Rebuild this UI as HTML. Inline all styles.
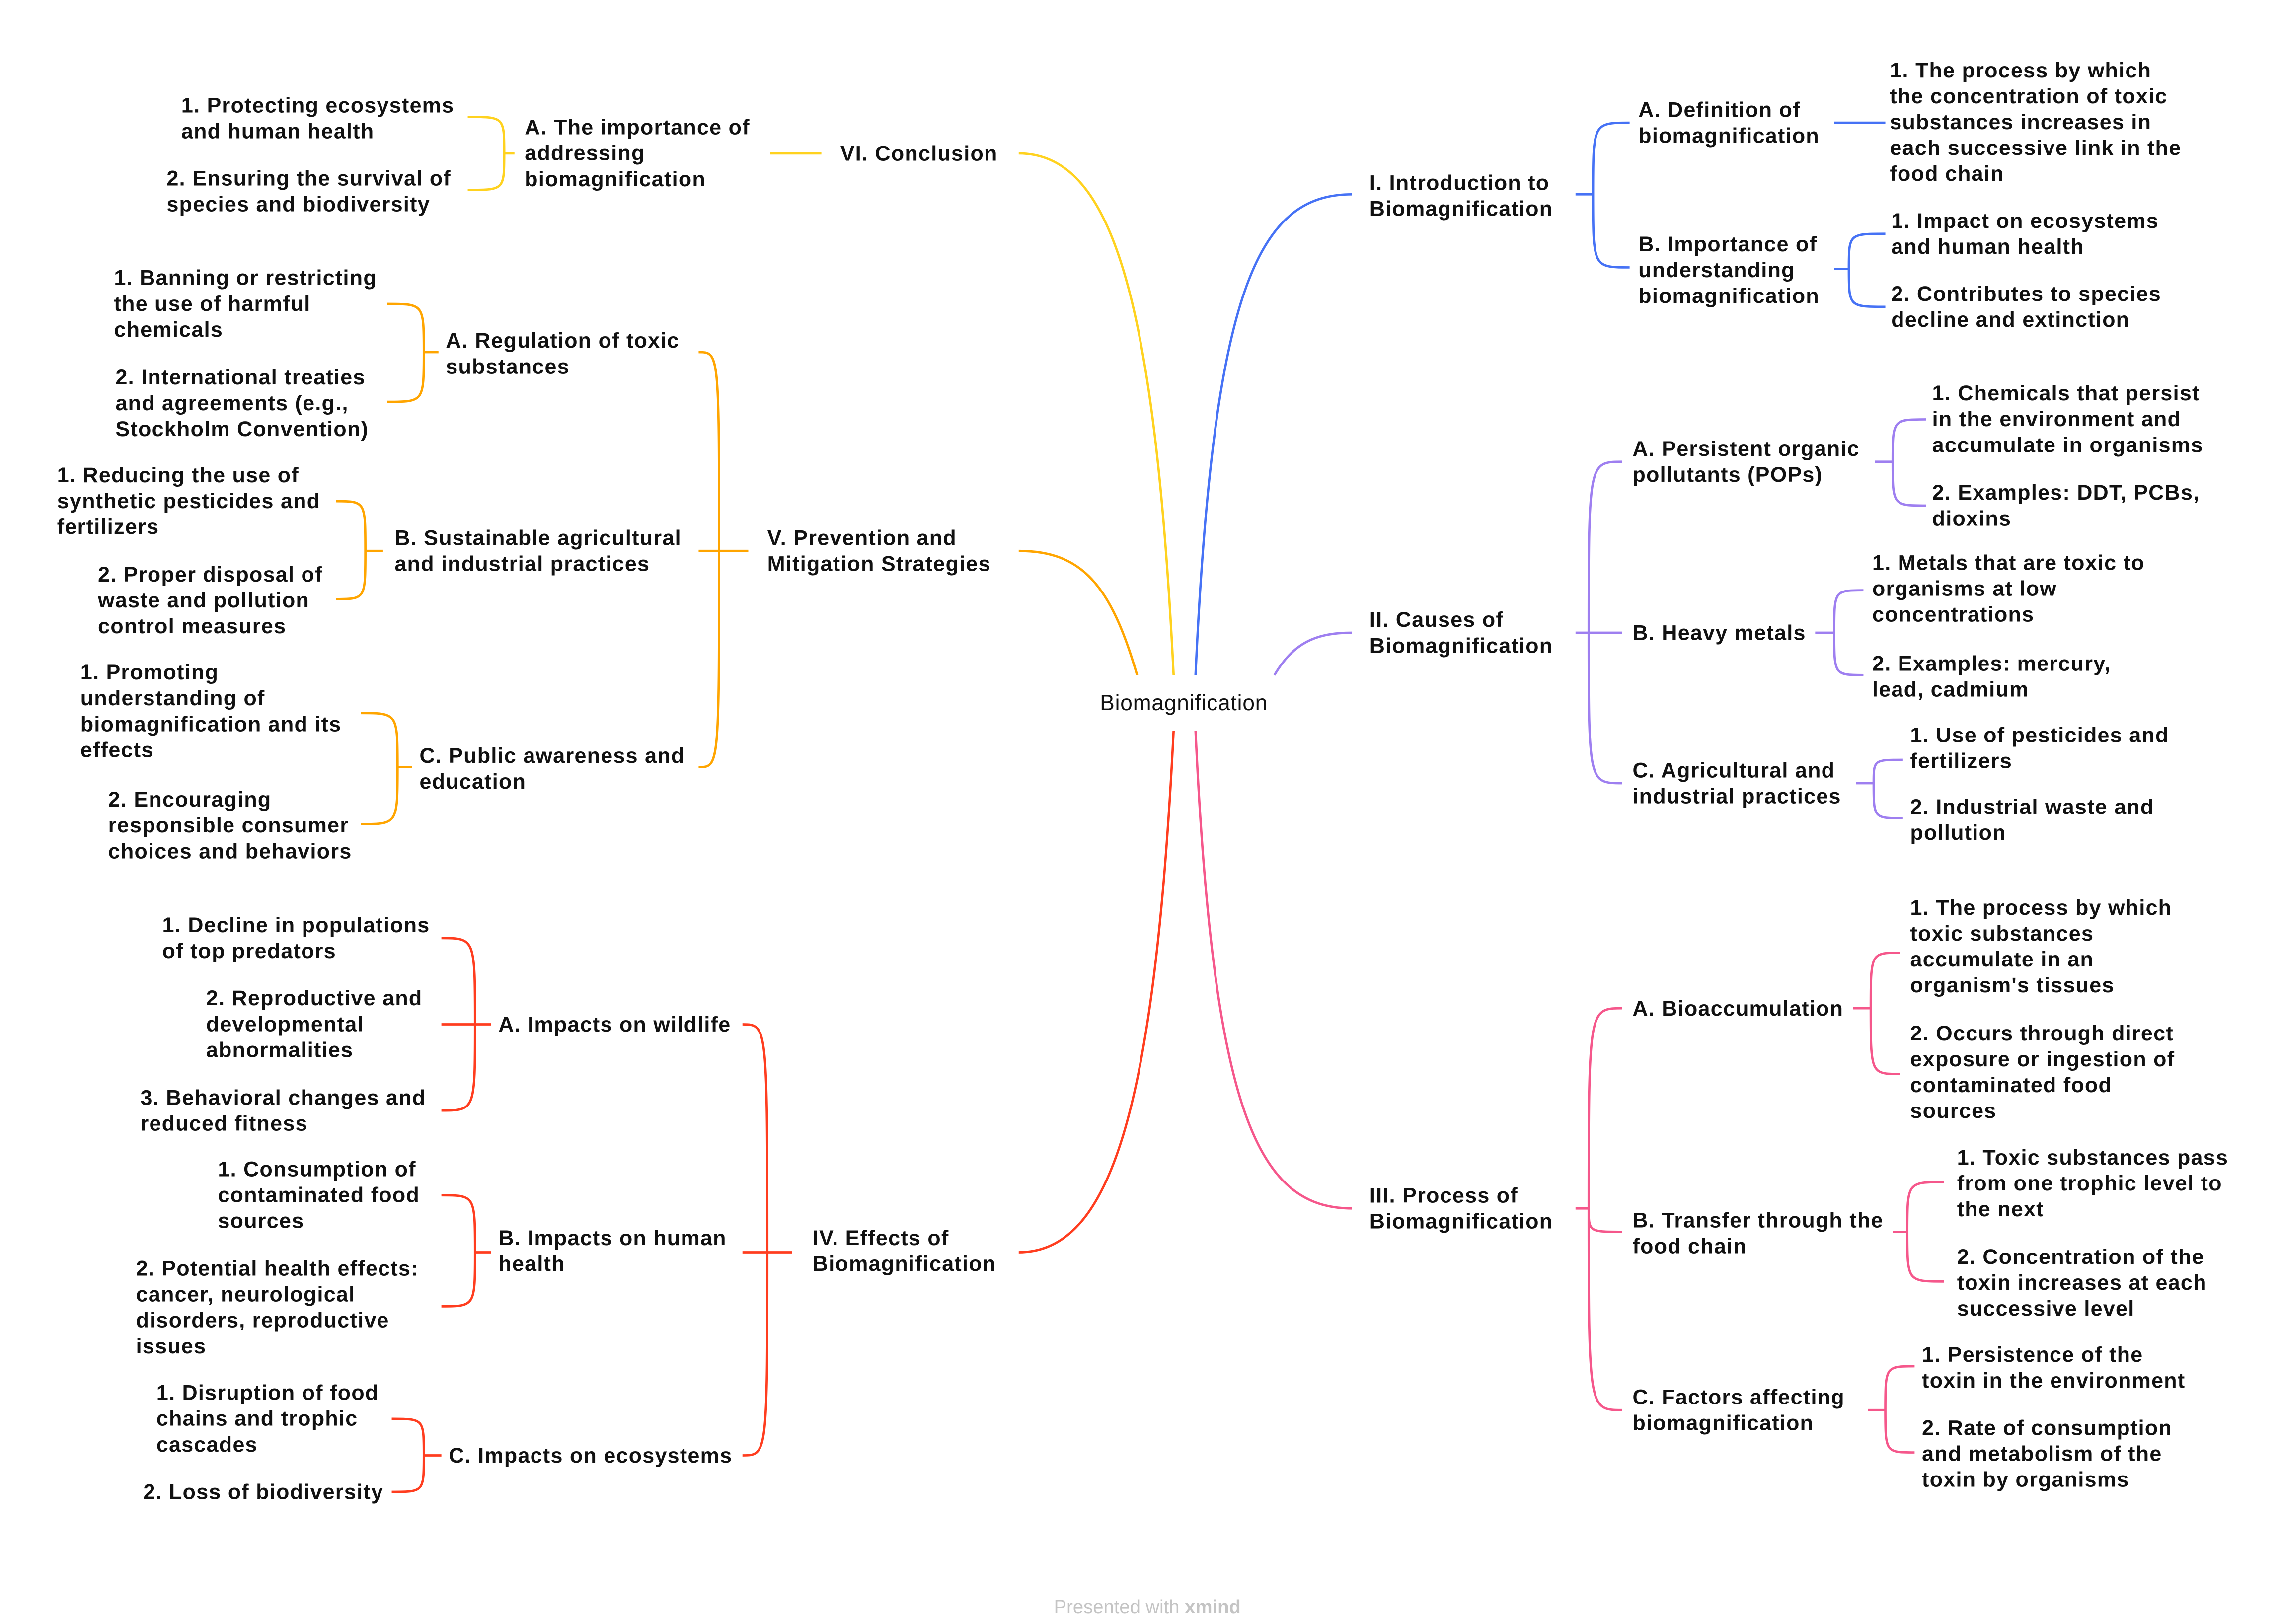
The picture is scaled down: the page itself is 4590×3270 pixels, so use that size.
<!DOCTYPE html>
<html><head><meta charset="utf-8"><style>
html,body{margin:0;padding:0;background:#fff;}
svg{display:block}
text{font-family:"Liberation Sans",sans-serif;font-weight:bold;font-size:14.6px;letter-spacing:0.45px;fill:#111;}
path{fill:none;stroke-width:1.6;}
</style></head><body>
<svg width="4590" height="3270" viewBox="0 0 1560 1111.4" xmlns="http://www.w3.org/2000/svg">
<rect width="1560" height="1111.4" fill="#fff"/>
<path stroke="#4672F5" d="M818,462 C830,200 860,133 925,133"/>
<path stroke="#FFD21F" d="M803,462 C790,200 760,105 697,105"/>
<path stroke="#FFA500" d="M778,462 C760,400 740,377 697,377"/>
<path stroke="#9E7FF0" d="M872,462 C885,440 900,433 925,433"/>
<path stroke="#FF3D1F" d="M803,500 C790,760 760,857 697,857"/>
<path stroke="#F5578B" d="M818,500 C830,760 860,827 925,827"/>

<g stroke="#4672F5"><path d="M1078,133 H1090 M1090,133 C1090,84 1090,84 1115,84 M1090,133 C1090,183 1090,183 1115,183"/>
<path d="M1255,84 H1290"/>
<path d="M1255,184 H1265 M1265,184 C1265,160 1265,160 1290,160 M1265,184 C1265,210 1265,210 1290,210"/></g>
<g stroke="#FFD21F"><path d="M527,105 H562"/>
<path d="M352,105 H345 M345,105 C345,80 345,80 320,80 M345,105 C345,130 345,130 320,130"/></g>
<g stroke="#FFA500"><path d="M512,377 H478 M492,377 C492,241 492,241 478,241 M492,377 C492,525 492,525 478,525"/>
<path d="M300,241 H290 M290,241 C290,208 290,208 265,208 M290,241 C290,275 290,275 265,275"/>
<path d="M262,377 H250 M250,377 C250,343 250,343 230,343 M250,377 C250,410 250,410 230,410"/>
<path d="M282,525 H272 M272,525 C272,488 272,488 247,488 M272,525 C272,564 272,564 247,564"/></g>
<g stroke="#FF3D1F"><path d="M542,857 H508 M525,857 C525,701 525,701 508,701 M525,857 C525,996 525,996 508,996"/>
<path d="M336,701 H302 M325,701 C325,642 325,642 302,642 M325,701 C325,760 325,760 302,760"/>
<path d="M336,857 H325 M325,857 C325,818 325,818 302,818 M325,857 C325,894 325,894 302,894"/>
<path d="M302,996 H290 M290,996 C290,971 290,971 268,971 M290,996 C290,1021 290,1021 268,1021"/></g>
<g stroke="#F5578B"><path d="M1078,827 H1087 M1087,827 C1087,690 1087,690 1110,690 M1087,827 C1087,843 1087,843 1110,843 M1087,827 C1087,965 1087,965 1110,965"/>
<path d="M1268,690 H1280 M1280,690 C1280,652 1280,652 1300,652 M1280,690 C1280,735 1280,735 1300,735"/>
<path d="M1295,843 H1305 M1305,843 C1305,809 1305,809 1330,809 M1305,843 C1305,877 1305,877 1330,877"/>
<path d="M1278,965 H1290 M1290,965 C1290,935 1290,935 1310,935 M1290,965 C1290,994 1290,994 1310,994"/></g>
<g stroke="#9E7FF0"><path d="M1078,433 H1110 M1087,433 C1087,316 1087,316 1110,316 M1087,433 C1087,536 1087,536 1110,536"/>
<path d="M1283,316 H1295 M1295,316 C1295,287 1295,287 1318,287 M1295,316 C1295,346 1295,346 1318,346"/>
<path d="M1242,433 H1255 M1255,433 C1255,404 1255,404 1275,404 M1255,433 C1255,462 1255,462 1275,462"/>
<path d="M1270,536 H1282 M1282,536 C1282,520 1282,520 1302,520 M1282,536 C1282,560 1282,560 1302,560"/></g>

<text x="810" y="486" text-anchor="middle" style="font-weight:normal;font-size:15px;letter-spacing:0.3px">Biomagnification</text>

<text x="575" y="110">VI. Conclusion</text>
<text x="525" y="373">V. Prevention and<tspan x="525" dy="17.7">Mitigation Strategies</tspan></text>
<text x="556" y="852">IV. Effects of<tspan x="556" dy="17.7">Biomagnification</tspan></text>
<text x="937" y="130">I. Introduction to<tspan x="937" dy="17.7">Biomagnification</tspan></text>
<text x="937" y="429">II. Causes of<tspan x="937" dy="17.7">Biomagnification</tspan></text>
<text x="937" y="823">III. Process of<tspan x="937" dy="17.7">Biomagnification</tspan></text>

<text x="359" y="92">A. The importance of<tspan x="359" dy="17.7">addressing</tspan><tspan x="359" dy="17.7">biomagnification</tspan></text>
<text x="305" y="238">A. Regulation of toxic<tspan x="305" dy="17.7">substances</tspan></text>
<text x="270" y="373">B. Sustainable agricultural<tspan x="270" dy="17.7">and industrial practices</tspan></text>
<text x="287" y="522">C. Public awareness and<tspan x="287" dy="17.7">education</tspan></text>
<text x="341" y="706">A. Impacts on wildlife</text>
<text x="341" y="852">B. Impacts on human<tspan x="341" dy="17.7">health</tspan></text>
<text x="307" y="1001">C. Impacts on ecosystems</text>

<text x="1121" y="80">A. Definition of<tspan x="1121" dy="17.7">biomagnification</tspan></text>
<text x="1121" y="172">B. Importance of<tspan x="1121" dy="17.7">understanding</tspan><tspan x="1121" dy="17.7">biomagnification</tspan></text>
<text x="1117" y="312">A. Persistent organic<tspan x="1117" dy="17.7">pollutants (POPs)</tspan></text>
<text x="1117" y="438">B. Heavy metals</text>
<text x="1117" y="532">C. Agricultural and<tspan x="1117" dy="17.7">industrial practices</tspan></text>
<text x="1117" y="695">A. Bioaccumulation</text>
<text x="1117" y="840">B. Transfer through the<tspan x="1117" dy="17.7">food chain</tspan></text>
<text x="1117" y="961">C. Factors affecting<tspan x="1117" dy="17.7">biomagnification</tspan></text>

<text x="124" y="77">1. Protecting ecosystems<tspan x="124" dy="17.7">and human health</tspan></text>
<text x="114" y="127">2. Ensuring the survival of<tspan x="114" dy="17.7">species and biodiversity</tspan></text>
<text x="78" y="195">1. Banning or restricting<tspan x="78" dy="17.7">the use of harmful</tspan><tspan x="78" dy="17.7">chemicals</tspan></text>
<text x="79" y="263">2. International treaties<tspan x="79" dy="17.7">and agreements (e.g.,</tspan><tspan x="79" dy="17.7">Stockholm Convention)</tspan></text>
<text x="39" y="330">1. Reducing the use of<tspan x="39" dy="17.7">synthetic pesticides and</tspan><tspan x="39" dy="17.7">fertilizers</tspan></text>
<text x="67" y="398">2. Proper disposal of<tspan x="67" dy="17.7">waste and pollution</tspan><tspan x="67" dy="17.7">control measures</tspan></text>
<text x="55" y="465">1. Promoting<tspan x="55" dy="17.7">understanding of</tspan><tspan x="55" dy="17.7">biomagnification and its</tspan><tspan x="55" dy="17.7">effects</tspan></text>
<text x="74" y="552">2. Encouraging<tspan x="74" dy="17.7">responsible consumer</tspan><tspan x="74" dy="17.7">choices and behaviors</tspan></text>
<text x="111" y="638">1. Decline in populations<tspan x="111" dy="17.7">of top predators</tspan></text>
<text x="141" y="688">2. Reproductive and<tspan x="141" dy="17.7">developmental</tspan><tspan x="141" dy="17.7">abnormalities</tspan></text>
<text x="96" y="756">3. Behavioral changes and<tspan x="96" dy="17.7">reduced fitness</tspan></text>
<text x="149" y="805">1. Consumption of<tspan x="149" dy="17.7">contaminated food</tspan><tspan x="149" dy="17.7">sources</tspan></text>
<text x="93" y="873">2. Potential health effects:<tspan x="93" dy="17.7">cancer, neurological</tspan><tspan x="93" dy="17.7">disorders, reproductive</tspan><tspan x="93" dy="17.7">issues</tspan></text>
<text x="107" y="958">1. Disruption of food<tspan x="107" dy="17.7">chains and trophic</tspan><tspan x="107" dy="17.7">cascades</tspan></text>
<text x="98" y="1026">2. Loss of biodiversity</text>

<text x="1293" y="53">1. The process by which<tspan x="1293" dy="17.7">the concentration of toxic</tspan><tspan x="1293" dy="17.7">substances increases in</tspan><tspan x="1293" dy="17.7">each successive link in the</tspan><tspan x="1293" dy="17.7">food chain</tspan></text>
<text x="1294" y="156">1. Impact on ecosystems<tspan x="1294" dy="17.7">and human health</tspan></text>
<text x="1294" y="206">2. Contributes to species<tspan x="1294" dy="17.7">decline and extinction</tspan></text>
<text x="1322" y="274">1. Chemicals that persist<tspan x="1322" dy="17.7">in the environment and</tspan><tspan x="1322" dy="17.7">accumulate in organisms</tspan></text>
<text x="1322" y="342">2. Examples: DDT, PCBs,<tspan x="1322" dy="17.7">dioxins</tspan></text>
<text x="1281" y="390">1. Metals that are toxic to<tspan x="1281" dy="17.7">organisms at low</tspan><tspan x="1281" dy="17.7">concentrations</tspan></text>
<text x="1281" y="459">2. Examples: mercury,<tspan x="1281" dy="17.7">lead, cadmium</tspan></text>
<text x="1307" y="508">1. Use of pesticides and<tspan x="1307" dy="17.7">fertilizers</tspan></text>
<text x="1307" y="557">2. Industrial waste and<tspan x="1307" dy="17.7">pollution</tspan></text>
<text x="1307" y="626">1. The process by which<tspan x="1307" dy="17.7">toxic substances</tspan><tspan x="1307" dy="17.7">accumulate in an</tspan><tspan x="1307" dy="17.7">organism's tissues</tspan></text>
<text x="1307" y="712">2. Occurs through direct<tspan x="1307" dy="17.7">exposure or ingestion of</tspan><tspan x="1307" dy="17.7">contaminated food</tspan><tspan x="1307" dy="17.7">sources</tspan></text>
<text x="1339" y="797">1. Toxic substances pass<tspan x="1339" dy="17.7">from one trophic level to</tspan><tspan x="1339" dy="17.7">the next</tspan></text>
<text x="1339" y="865">2. Concentration of the<tspan x="1339" dy="17.7">toxin increases at each</tspan><tspan x="1339" dy="17.7">successive level</tspan></text>
<text x="1315" y="932">1. Persistence of the<tspan x="1315" dy="17.7">toxin in the environment</tspan></text>
<text x="1315" y="982">2. Rate of consumption<tspan x="1315" dy="17.7">and metabolism of the</tspan><tspan x="1315" dy="17.7">toxin by organisms</tspan></text>

<text x="785" y="1104" text-anchor="middle" style="font-weight:normal;font-size:13px;letter-spacing:0;fill:#c4c4c4">Presented with <tspan style="font-weight:bold">xmind</tspan></text>
</svg>
</body></html>
